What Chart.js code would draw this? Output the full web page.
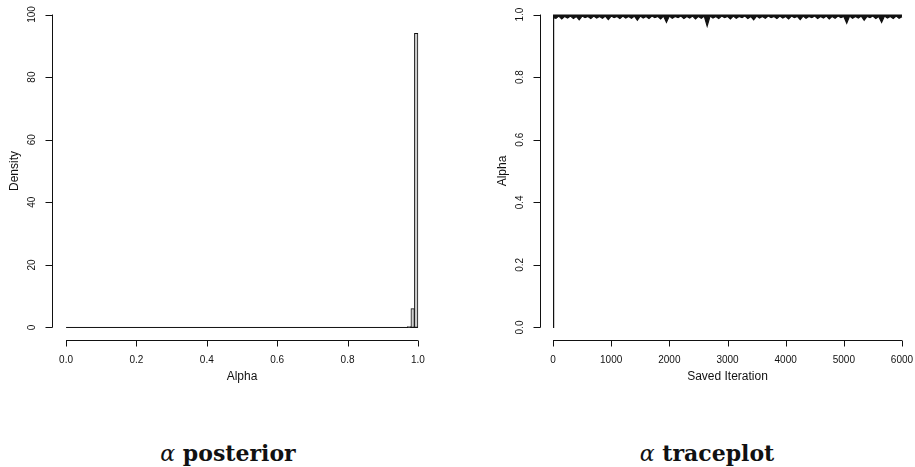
<!DOCTYPE html>
<html>
<head>
<meta charset="utf-8">
<script src="https://cdn.jsdelivr.net/npm/chart.js@4"></script>
<style>
  body { margin: 0; background: #fff; width: 915px; height: 467px; position: relative; overflow: hidden; }
  canvas { position: absolute; top: 0; }
  .cap { position: absolute; top: 441px; font-family: "DejaVu Serif", serif; font-weight: bold; font-size: 22px; line-height: 24px; text-align: center; color: #111; }
  .cap i { font-weight: normal; }
</style>
</head>
<body>
<canvas id="histChart" width="457" height="400" style="left:0"></canvas>
<canvas id="traceChart" width="458" height="400" style="left:457px"></canvas>
<div class="cap" style="left:128px;width:200px"><i>α</i> posterior</div>
<div class="cap" style="left:607px;width:200px"><i>α</i> traceplot</div>
<script>
// Histogram of alpha (posterior density), bin width 0.01
const histRange = [0, 1];
const binWidth = 0.01;
const binLeft = [0.97, 0.98, 0.99];
const binDensity = [0.3, 6, 94];

const histXTicks = [0, 0.2, 0.4, 0.6, 0.8, 1.0];
const histXLabels = ['0.0', '0.2', '0.4', '0.6', '0.8', '1.0'];
const histYTicks = [0, 20, 40, 60, 80, 100];
const histYLabels = ['0', '20', '40', '60', '80', '100'];

// Trace of alpha over saved iterations
const iterations = [0, 10, 50, 100, 150, 200, 250, 300, 350, 400, 450, 500,
  550, 600, 650, 700, 750, 800, 850, 900, 950, 1000,
  1050, 1100, 1150, 1200, 1250, 1300, 1350, 1400, 1450, 1500,
  1550, 1600, 1650, 1700, 1750, 1800, 1850, 1900, 1950, 2000,
  2050, 2100, 2150, 2200, 2250, 2300, 2350, 2400, 2450, 2500,
  2550, 2600, 2650, 2700, 2750, 2800, 2850, 2900, 2950, 3000,
  3050, 3100, 3150, 3200, 3250, 3300, 3350, 3400, 3450, 3500,
  3550, 3600, 3650, 3700, 3750, 3800, 3850, 3900, 3950, 4000,
  4050, 4100, 4150, 4200, 4250, 4300, 4350, 4400, 4450, 4500,
  4550, 4600, 4650, 4700, 4750, 4800, 4850, 4900, 4950, 5000,
  5050, 5100, 5150, 5200, 5250, 5300, 5350, 5400, 5450, 5500,
  5550, 5600, 5650, 5700, 5750, 5800, 5850, 5900, 5950, 6000];
const alphaTrace = [0.0, 0.99, 0.988, 0.995, 0.986, 0.994, 0.989, 0.995, 0.987, 0.994, 0.983, 0.995,
  0.990, 0.994, 0.987, 0.995, 0.989, 0.994, 0.988, 0.995, 0.984, 0.995,
  0.990, 0.994, 0.987, 0.995, 0.989, 0.994, 0.988, 0.995, 0.982, 0.995,
  0.989, 0.994, 0.987, 0.995, 0.990, 0.994, 0.986, 0.995, 0.975, 0.995,
  0.988, 0.994, 0.990, 0.995, 0.987, 0.994, 0.989, 0.995, 0.986, 0.994,
  0.988, 0.995, 0.963, 0.995, 0.989, 0.994, 0.987, 0.995, 0.990, 0.994,
  0.986, 0.995, 0.988, 0.994, 0.990, 0.995, 0.987, 0.994, 0.983, 0.995,
  0.989, 0.994, 0.988, 0.995, 0.990, 0.994, 0.987, 0.995, 0.989, 0.994,
  0.986, 0.995, 0.990, 0.994, 0.984, 0.995, 0.988, 0.994, 0.990, 0.995,
  0.987, 0.994, 0.989, 0.995, 0.986, 0.994, 0.988, 0.995, 0.990, 0.994,
  0.972, 0.995, 0.988, 0.994, 0.989, 0.995, 0.982, 0.994, 0.990, 0.995,
  0.987, 0.994, 0.975, 0.995, 0.989, 0.994, 0.987, 0.995, 0.988, 0.993];

const traceXTicks = [0, 1000, 2000, 3000, 4000, 5000, 6000];
const traceXLabels = ['0', '1000', '2000', '3000', '4000', '5000', '6000'];
const traceYTicks = [0, 0.2, 0.4, 0.6, 0.8, 1.0];
const traceYLabels = ['0.0', '0.2', '0.4', '0.6', '0.8', '1.0'];
const traceCeiling = 1.0;

const ink = '#111';
const tickFont = '10px "Liberation Sans", Arial, sans-serif';
const titleFont = '12px "Liberation Sans", Arial, sans-serif';

// R style axes: detached lines that only span the ticks
const rAxes = {
  id: 'rAxes',
  afterDraw(chart, args, o) {
    const ctx = chart.ctx;
    const a = chart.chartArea;
    const x = chart.scales.x, y = chart.scales.y;
    ctx.save();
    ctx.strokeStyle = ink;
    ctx.fillStyle = ink;
    ctx.lineWidth = 1;

    // y axis
    const ax = Math.round(a.left) + 0.5;
    ctx.beginPath();
    ctx.moveTo(ax, y.getPixelForValue(o.yTicks[0]));
    ctx.lineTo(ax, y.getPixelForValue(o.yTicks[o.yTicks.length - 1]));
    o.yTicks.forEach(v => {
      const p = Math.round(y.getPixelForValue(v)) + 0.5;
      ctx.moveTo(ax, p);
      ctx.lineTo(ax - 7, p);
    });
    ctx.stroke();
    ctx.font = tickFont;
    ctx.textAlign = 'center';
    ctx.textBaseline = 'middle';
    o.yTicks.forEach((v, i) => {
      ctx.save();
      ctx.translate(a.left - 20, y.getPixelForValue(v));
      ctx.rotate(-Math.PI / 2);
      ctx.fillText(o.yLabels[i], 0, 0);
      ctx.restore();
    });
    ctx.save();
    ctx.font = titleFont;
    ctx.translate(a.left - 37, (a.top + a.bottom) / 2);
    ctx.rotate(-Math.PI / 2);
    ctx.fillText(o.yTitle, 0, 0);
    ctx.restore();

    // x axis
    const ay = Math.round(a.bottom) + 0.5;
    ctx.beginPath();
    ctx.moveTo(x.getPixelForValue(o.xTicks[0]), ay);
    ctx.lineTo(x.getPixelForValue(o.xTicks[o.xTicks.length - 1]), ay);
    o.xTicks.forEach(v => {
      const p = Math.round(x.getPixelForValue(v)) + 0.5;
      ctx.moveTo(p, ay);
      ctx.lineTo(p, ay + 6);
    });
    ctx.stroke();
    ctx.font = tickFont;
    o.xTicks.forEach((v, i) => {
      ctx.fillText(o.xLabels[i], x.getPixelForValue(v), a.bottom + 20);
    });
    ctx.font = titleFont;
    ctx.fillText(o.xTitle, (a.left + a.right) / 2, a.bottom + 37);
    ctx.restore();
  }
};

// Histogram
new Chart(document.getElementById('histChart'), {
  type: 'bar',
  data: {
    datasets: [{
      type: 'bar',
      data: binLeft.map((b, i) => ({ x: b + binWidth / 2, y: binDensity[i] })),
      backgroundColor: '#cfcfcf',
      borderColor: ink,
      borderWidth: 1,
      borderSkipped: false,
      barPercentage: 1,
      categoryPercentage: 1
    }, {
      type: 'line',
      data: histRange.map(v => ({ x: v, y: 0 })),
      borderColor: ink,
      borderWidth: 1,
      pointRadius: 0
    }]
  },
  options: {
    responsive: false,
    animation: false,
    layout: { padding: { left: 52, right: 25, top: 2, bottom: 60 } },
    scales: {
      x: { type: 'linear', offset: false, min: -0.04, max: 1.04, display: false },
      y: { type: 'linear', min: -4, max: 104, display: false }
    },
    plugins: {
      legend: { display: false },
      tooltip: { enabled: false },
      rAxes: {
        xTicks: histXTicks, xLabels: histXLabels, xTitle: 'Alpha',
        yTicks: histYTicks, yLabels: histYLabels, yTitle: 'Density'
      }
    }
  },
  plugins: [rAxes]
});

// Traceplot: band between the chain and its ceiling is filled so it reads as the dense trace
new Chart(document.getElementById('traceChart'), {
  type: 'line',
  data: {
    datasets: [{
      data: iterations.map((it, i) => ({ x: it, y: alphaTrace[i] })),
      borderColor: ink,
      backgroundColor: ink,
      fill: { value: traceCeiling },
      borderWidth: 1.2,
      pointRadius: 0,
      tension: 0
    }]
  },
  options: {
    responsive: false,
    animation: false,
    layout: { padding: { left: 83, right: 0, top: 2, bottom: 60 } },
    scales: {
      x: { type: 'linear', min: -224, max: 6224, display: false },
      y: { type: 'linear', min: -0.04, max: 1.04, display: false }
    },
    plugins: {
      legend: { display: false },
      tooltip: { enabled: false },
      rAxes: {
        xTicks: traceXTicks, xLabels: traceXLabels, xTitle: 'Saved Iteration',
        yTicks: traceYTicks, yLabels: traceYLabels, yTitle: 'Alpha'
      }
    }
  },
  plugins: [rAxes]
});
</script>
</body>
</html>
